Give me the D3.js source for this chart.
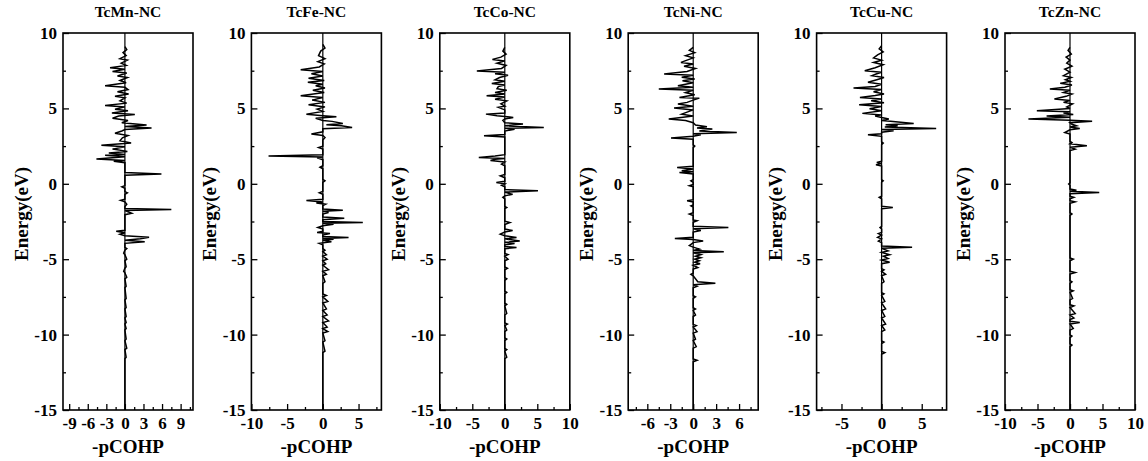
<!DOCTYPE html>
<html>
<head>
<meta charset="utf-8">
<script src="https://cdnjs.cloudflare.com/ajax/libs/d3/7.8.5/d3.min.js"></script>
<style>
body { margin: 0; background: #fff; }
text { font-family: "Liberation Serif", "Times New Roman", serif; font-weight: bold; fill: #000; }
</style>
</head>
<body>
<div id="chart"></div>
<script>
// panel titles
var titles = ["TcMn-NC", "TcFe-NC", "TcCo-NC", "TcNi-NC", "TcCu-NC", "TcZn-NC"];

// x axis settings per panel
var xDomains = [[-10, 11], [-10, 8.2], [-10, 10], [-8.5, 8.5], [-8.1, 8.1], [-10, 10]];
var xMajor = [[-9, -6, -3, 0, 3, 6, 9], [-10, -5, 0, 5], [-10, -5, 0, 5, 10], [-6, -3, 0, 3, 6], [-5, 0, 5], [-10, -5, 0, 5, 10]];
var xMinor = [[-7.5, -4.5, -1.5, 1.5, 4.5, 7.5, 10.5], [-7.5, -2.5, 2.5, 7.5], [-7.5, -2.5, 2.5, 7.5], [-7.5, -4.5, -1.5, 1.5, 4.5, 7.5], [-7.5, -2.5, 2.5, 7.5], [-7.5, -2.5, 2.5, 7.5]];
var yMajor = [10, 5, 0, -5, -10, -15];
var yMinor = [7.5, 2.5, -2.5, -7.5, -12.5];

// -pCOHP curves: [energy, value]
var tcMnCohp = [[9.1,0],[8.9,0.3],[8.7,-0.3],[8.5,0.2],[8.3,-0.8],[8.2,0.4],[8.0,-0.6],[7.85,0.2],[7.7,-2.4],[7.6,0],[7.45,-2.0],[7.35,0.3],[7.15,-1.2],[7.05,0.4],[6.85,-0.8],[6.7,0.2],[6.5,-3.2],[6.4,0],[6.25,0.5],[6.1,-1.2],[5.95,0.6],[5.8,-1.6],[5.7,0],[5.5,-0.8],[5.35,0.3],[5.2,-3.2],[5.1,0],[4.95,-1.6],[4.85,0.5],[4.7,-2.1],[4.6,1.6],[4.5,-1.0],[4.35,-2.0],[4.2,0.5],[4.05,-0.5],[3.9,3.5],[3.8,0],[3.7,4.3],[3.6,0],[3.5,-0.5],[3.35,-1.6],[3.2,0.5],[3.05,-0.4],[2.85,-0.8],[2.7,1.0],[2.55,-3.8],[2.45,0],[2.3,-2.0],[2.15,0.4],[2.05,-2.6],[1.95,0],[1.9,-3.2],[1.8,0],[1.65,-4.6],[1.55,0],[1.5,-1.8],[1.4,0],[0.75,0],[0.65,5.9],[0.57,0],[0.2,0],[-0.12,0],[-0.2,-0.5],[-0.3,0],[-0.52,0],[-0.6,0.4],[-0.7,0],[-1.02,0],[-1.1,-0.7],[-1.2,0],[-1.35,0.3],[-1.5,0],[-1.64,0],[-1.7,7.5],[-1.77,0],[-1.95,1.1],[-2.05,0],[-3.08,0],[-3.15,-1.4],[-3.25,0],[-3.35,-0.8],[-3.45,0],[-3.55,3.9],[-3.65,2.5],[-3.75,0],[-3.85,3.2],[-3.95,0],[-4.22,0],[-4.3,0.3],[-4.4,0],[-4.6,-0.2],[-4.7,0],[-5.0,0.3],[-5.1,0],[-5.5,0.2],[-5.6,0],[-5.8,-0.2],[-5.9,0],[-6.2,0.3],[-6.3,0],[-6.8,0.2],[-6.9,0],[-7.6,0.2],[-7.7,0],[-8.2,0.2],[-8.3,0],[-8.8,0.2],[-8.9,0],[-9.2,0.2],[-9.3,0],[-9.6,0.2],[-9.7,0],[-10.3,0.2],[-10.4,0],[-10.9,0.3],[-11.0,0],[-11.5,0.2],[-11.6,0],[-15,0]];
var tcFeCohp = [[9.25,0],[9.0,0.3],[8.8,-0.3],[8.5,-0.6],[8.3,0.3],[8.1,-0.7],[7.95,0.2],[7.75,-0.5],[7.57,-3.1],[7.45,0],[7.3,-1.6],[7.15,0],[7.0,-2.0],[6.85,0.2],[6.73,-2.1],[6.6,0],[6.5,-1.0],[6.35,0.3],[6.2,-1.4],[6.05,0.2],[5.84,-3.1],[5.72,0],[5.55,-1.5],[5.4,0.3],[5.24,-2.0],[5.1,0.3],[4.95,-0.8],[4.8,0],[4.62,-2.3],[4.52,0],[4.45,1.9],[4.35,-1.0],[4.2,0],[4.14,1.3],[4.0,2.8],[3.92,0.5],[3.85,2.6],[3.74,4.1],[3.65,0],[3.45,0],[3.3,-1.6],[3.2,0],[3.07,0.3],[2.9,0],[2.5,0],[2.4,-0.6],[2.3,0],[1.92,0],[1.85,-7.6],[1.78,0],[1.72,-0.8],[1.6,0],[1.2,0],[1.1,-0.4],[1.0,0],[0.3,0],[0.2,0.3],[0.1,0],[-0.5,0],[-0.6,-0.5],[-0.7,0],[-1.02,0],[-1.1,-2.3],[-1.2,0],[-1.28,-0.9],[-1.35,0.4],[-1.45,0],[-1.67,0],[-1.75,2.8],[-1.82,0],[-1.9,0.8],[-2.0,0],[-2.2,0],[-2.28,3.0],[-2.38,0],[-2.5,0],[-2.57,5.6],[-2.62,0],[-2.68,1.5],[-2.78,0],[-2.9,-0.7],[-3.0,0],[-3.15,0],[-3.23,-0.8],[-3.3,1.0],[-3.4,0],[-3.5,0],[-3.56,3.6],[-3.62,0],[-3.67,1.5],[-3.75,0],[-3.85,1.2],[-3.95,-0.5],[-4.05,0],[-4.3,0],[-4.4,0.3],[-4.5,0],[-4.7,0.5],[-4.8,0],[-5.0,0.6],[-5.1,0],[-5.3,0.4],[-5.4,0],[-5.7,0.8],[-5.8,0],[-6.0,0.5],[-6.1,0],[-6.5,0.3],[-6.6,0],[-7.3,0],[-7.4,0.5],[-7.5,0],[-7.8,0.7],[-7.9,0],[-8.3,0.5],[-8.4,0],[-8.7,0.6],[-8.8,0],[-9.1,0.8],[-9.2,0],[-9.5,0.6],[-9.6,0],[-9.8,0.7],[-9.9,0],[-10.4,0.3],[-10.5,0],[-11.1,0.3],[-11.2,0],[-15,0]];
var tcCoCohp = [[9.05,0],[8.8,-0.3],[8.6,0.2],[8.4,-0.6],[8.25,-1.9],[8.15,0],[8.0,-1.2],[7.85,0.2],[7.65,-0.5],[7.48,-4.3],[7.4,0],[7.3,-1.5],[7.2,0.5],[7.05,-0.8],[6.9,-1.5],[6.8,0],[6.65,-2.0],[6.55,0],[6.45,-1.0],[6.3,-1.2],[6.2,0.3],[6.05,-1.5],[5.95,0],[5.84,-2.8],[5.75,0],[5.6,-1.5],[5.5,0.3],[5.3,-0.6],[5.15,0],[5.07,-1.0],[4.9,0],[4.7,0],[4.62,-2.9],[4.52,-1.2],[4.4,1.3],[4.3,0],[4.2,-0.3],[4.05,0],[3.96,2.8],[3.85,0],[3.74,6.0],[3.68,0],[3.62,1.5],[3.5,0],[3.27,0],[3.19,-3.2],[3.1,0],[1.93,0],[1.85,-1.5],[1.75,-4.0],[1.68,0],[1.63,-1.5],[1.55,-2.2],[1.45,0],[1.3,-0.5],[1.2,0],[0.62,0],[0.53,-0.7],[0.4,0],[0.17,0],[0.09,-1.3],[0,0],[-0.1,-0.5],[-0.2,0],[-0.38,0],[-0.46,5.1],[-0.55,0],[-0.7,1.2],[-0.8,0],[-0.9,-0.3],[-1.0,0],[-1.5,0],[-1.57,0.3],[-1.65,0],[-2.48,0],[-2.57,0.8],[-2.7,0],[-3.0,0],[-3.1,1.2],[-3.2,0],[-3.34,-0.7],[-3.45,0],[-3.56,1.8],[-3.65,0],[-3.8,2.3],[-3.88,0],[-3.96,1.5],[-4.05,0],[-4.15,0],[-4.23,1.8],[-4.3,0],[-4.62,0],[-4.7,0.5],[-4.8,0],[-5.0,0.5],[-5.1,0],[-5.52,0],[-5.6,0.4],[-5.7,0],[-6.22,0],[-6.3,0.3],[-6.4,0],[-7.12,0],[-7.2,0.3],[-7.3,0],[-7.92,0],[-8.0,0.3],[-8.1,0],[-8.6,0.3],[-8.7,0],[-9.22,0],[-9.3,0.4],[-9.4,0],[-9.7,0.3],[-9.8,0],[-10.22,0],[-10.3,0.3],[-10.4,0],[-10.92,0],[-11.0,0.3],[-11.1,0],[-11.5,0.3],[-11.6,0],[-15,0]];
var tcNiCohp = [[9.05,0],[8.85,-0.5],[8.7,0.2],[8.5,-1.0],[8.35,0],[8.2,-0.8],[8.05,-1.6],[7.95,0],[7.8,-1.2],[7.65,0.3],[7.45,-0.8],[7.28,-3.8],[7.2,0],[7.06,-1.5],[6.95,0.2],[6.84,-1.4],[6.7,0],[6.5,-2.0],[6.4,0],[6.28,-4.5],[6.2,0],[6.05,-1.0],[5.9,0.2],[5.73,-1.8],[5.68,0.8],[5.55,0],[5.4,-0.8],[5.29,-2.0],[5.15,0],[5.02,-2.5],[4.9,0],[4.75,-0.8],[4.62,-1.5],[4.5,0],[4.3,-3.2],[4.2,-1.0],[4.05,0],[3.9,0.3],[3.78,1.8],[3.7,0.5],[3.63,2.5],[3.5,0.8],[3.4,5.7],[3.32,0],[3.25,1.0],[3.15,0],[3.03,-2.9],[2.95,0],[2.58,0],[2.5,0.2],[2.4,0],[1.16,0],[1.08,-2.1],[0.98,0],[0.86,-1.5],[0.8,0],[0.75,-1.8],[0.65,0],[0.28,0],[0.2,-0.3],[0.1,0],[-0.05,0],[-0.13,-0.5],[-0.2,0],[-1.05,0],[-1.13,-0.8],[-1.2,0],[-1.4,0],[-1.46,-0.3],[-1.55,0],[-1.92,0],[-2.0,-0.5],[-2.1,0],[-2.4,0],[-2.45,0.5],[-2.55,0],[-2.82,0],[-2.9,4.6],[-2.98,0],[-3.1,1.0],[-3.2,0],[-3.55,0],[-3.63,-2.4],[-3.7,0],[-3.8,1.3],[-3.9,0],[-4.1,-0.5],[-4.2,0],[-4.33,0.8],[-4.42,0],[-4.5,4.0],[-4.58,0],[-4.7,1.0],[-4.8,0.3],[-4.9,1.0],[-5.0,0.2],[-5.1,0.8],[-5.2,0.2],[-5.3,0.9],[-5.4,0],[-5.55,0.6],[-5.65,0],[-5.92,0],[-6.0,-0.3],[-6.1,0],[-6.5,0.6],[-6.6,2.9],[-6.7,0],[-6.8,0.5],[-6.9,0],[-7.42,0],[-7.5,0.3],[-7.6,0],[-8.22,0],[-8.3,0.3],[-8.4,0],[-8.7,0.3],[-8.8,0],[-9.32,0],[-9.4,0.4],[-9.5,0],[-9.8,0.5],[-9.9,0],[-10.3,0.3],[-10.4,0],[-10.8,0.4],[-10.9,0],[-11.62,0],[-11.7,0.5],[-11.8,0],[-15,0]];
var tcCuCohp = [[9.15,0],[8.95,-0.3],[8.75,0.2],[8.55,-0.5],[8.35,-1.0],[8.2,0],[8.05,-1.0],[7.9,0.2],[7.7,-0.8],[7.5,-2.1],[7.4,0],[7.3,-0.6],[7.17,-1.2],[7.05,0.3],[6.9,-0.6],[6.73,-1.7],[6.6,0],[6.45,-0.8],[6.35,-3.5],[6.25,0],[6.1,-1.0],[5.95,0.3],[5.85,-0.8],[5.73,-2.7],[5.62,0],[5.5,-1.3],[5.38,0.3],[5.24,-2.8],[5.12,0],[4.98,-1.5],[4.85,0],[4.67,-2.4],[4.57,0],[4.5,-0.8],[4.4,0],[4.3,0.9],[4.2,0],[4.14,1.1],[4.0,4.0],[3.92,0.5],[3.85,2.0],[3.76,0.4],[3.67,6.8],[3.6,0],[3.52,1.5],[3.42,0],[3.32,0],[3.25,-1.7],[3.15,0],[2.78,0],[2.7,0.2],[2.6,0],[1.5,0],[1.42,-0.6],[1.35,0],[1.26,-0.7],[1.18,0],[0.28,0],[0.2,0.2],[0.1,0],[-0.82,0],[-0.9,-0.3],[-1.0,0],[-1.49,0],[-1.57,1.4],[-1.65,0],[-2.82,0],[-2.9,-0.2],[-3.0,0],[-3.22,0],[-3.3,-0.4],[-3.4,0],[-3.55,-0.5],[-3.65,0],[-3.8,-0.4],[-3.9,0],[-4.12,0],[-4.2,3.8],[-4.28,0],[-4.45,0.8],[-4.55,0],[-4.7,1.0],[-4.8,0.2],[-4.95,0.8],[-5.05,0],[-5.2,1.0],[-5.3,0],[-5.62,0],[-5.7,0.3],[-5.8,0],[-6.0,0.5],[-6.1,0],[-6.5,0.3],[-6.6,0],[-7.22,0],[-7.3,0.3],[-7.4,0],[-7.8,0.4],[-7.9,0],[-8.3,0.5],[-8.4,0],[-8.8,0.4],[-8.9,0],[-9.3,0.5],[-9.4,0],[-9.7,0.4],[-9.8,0],[-10.42,0],[-10.5,0.3],[-10.6,0],[-11.12,0],[-11.2,0.4],[-11.3,0],[-15,0]];
var tcZnCohp = [[9.05,0],[8.85,-0.3],[8.6,0.2],[8.4,-0.6],[8.2,0],[8.0,-0.5],[7.8,0.3],[7.6,-0.8],[7.4,0],[7.17,-1.0],[7.05,0.2],[6.9,-0.7],[6.8,0],[6.66,-1.5],[6.55,0.3],[6.4,-0.8],[6.28,-3.1],[6.2,0],[6.05,-1.0],[5.95,0.3],[5.8,-0.6],[5.62,-2.4],[5.52,0],[5.4,-1.0],[5.3,0.4],[5.1,-0.5],[5.0,0],[4.85,-5.1],[4.78,0],[4.7,-1.0],[4.6,0.5],[4.5,-3.6],[4.42,0],[4.3,-6.4],[4.22,0],[4.14,3.4],[4.05,0],[3.95,0.3],[3.85,1.0],[3.76,0],[3.67,1.5],[3.58,0],[3.4,-0.8],[3.3,0],[2.82,0],[2.74,0.3],[2.65,0],[2.52,2.6],[2.42,0],[2.3,0.8],[2.2,0],[0.06,0],[-0.02,-0.2],[-0.1,0],[-0.35,0],[-0.42,1.0],[-0.5,0],[-0.58,4.5],[-0.66,0],[-0.82,0],[-0.9,0.6],[-1.0,0],[-1.12,0],[-1.2,0.8],[-1.3,0],[-1.92,0],[-2.0,0.3],[-2.1,0],[-4.92,0],[-5.0,0.5],[-5.1,0],[-5.8,0],[-5.88,0.8],[-5.98,0],[-6.42,0],[-6.5,0.3],[-6.6,0],[-7.02,0],[-7.1,0.5],[-7.2,0],[-7.6,0.4],[-7.7,0],[-8.02,0],[-8.1,0.6],[-8.2,0],[-8.6,0.8],[-8.7,0],[-8.9,0.6],[-9.0,0],[-9.12,0],[-9.2,1.5],[-9.3,0],[-9.6,0.5],[-9.7,0],[-10.02,0],[-10.1,0.3],[-10.2,0],[-10.62,0],[-10.7,0.3],[-10.8,0],[-15,0]];

var curves = [tcMnCohp, tcFeCohp, tcCoCohp, tcNiCohp, tcCuCohp, tcZnCohp];

var width = 1148, height = 461;
var plotTop = 33, plotBottom = 410;
var panelW = 130, firstLeft = 63, step = 188.4;

var svg = d3.select("#chart").append("svg").attr("width", width).attr("height", height);

var y = d3.scaleLinear().domain([-15, 10]).range([plotBottom, plotTop]);

titles.forEach(function (t, i) {
    var left = firstLeft + i * step;
    var x = d3.scaleLinear().domain(xDomains[i]).range([left, left + panelW]);
    var g = svg.append("g");

    // zero line
    g.append("line").attr("x1", x(0)).attr("x2", x(0)).attr("y1", plotTop).attr("y2", plotBottom)
        .attr("stroke", "#000").attr("stroke-width", 1.2);

    // curve
    var line = d3.line().x(function (d) { return x(d[1]); }).y(function (d) { return y(d[0]); });
    g.append("path").datum(curves[i]).attr("d", line).attr("fill", "none")
        .attr("stroke", "#000").attr("stroke-width", 1.5).attr("stroke-linejoin", "miter");

    // y axis
    var ya = g.append("g").attr("transform", "translate(" + left + ",0)")
        .call(d3.axisLeft(y).tickValues(yMajor).tickSize(-6).tickPadding(6).tickFormat(d3.format("d")));
    ya.selectAll("text").style("font-size", "17px");
    g.append("g").attr("transform", "translate(" + left + ",0)")
        .call(d3.axisLeft(y).tickValues(yMinor).tickSize(-3).tickFormat(""))
        .call(function (s) { s.select(".domain").remove(); });

    // x axis
    var xa = g.append("g").attr("transform", "translate(0," + plotBottom + ")")
        .call(d3.axisBottom(x).tickValues(xMajor[i]).tickSize(-6).tickPadding(7).tickFormat(d3.format("d")));
    xa.selectAll("text").style("font-size", "17px");
    g.append("g").attr("transform", "translate(0," + plotBottom + ")")
        .call(d3.axisBottom(x).tickValues(xMinor[i].filter(function (v) { return v > xDomains[i][0] && v < xDomains[i][1]; })).tickSize(-3).tickFormat(""))
        .call(function (s) { s.select(".domain").remove(); });

    g.selectAll(".tick line").attr("stroke", "#000").attr("stroke-width", 1.3);
    g.selectAll(".tick text").attr("fill", "#000").text(function () { return d3.select(this).text().replace("\u2212", "-"); });

    // frame
    g.append("rect").attr("x", left).attr("y", plotTop).attr("width", panelW).attr("height", plotBottom - plotTop)
        .attr("fill", "none").attr("stroke", "#000").attr("stroke-width", 1.6);
    g.selectAll(".domain").remove();

    // labels
    g.append("text").attr("x", left + panelW / 2).attr("y", 17).attr("text-anchor", "middle")
        .style("font-size", "15.5px").text(t);
    g.append("text").attr("x", left + panelW / 2).attr("y", 453).attr("text-anchor", "middle")
        .style("font-size", "19px").text("-pCOHP");
    g.append("text").attr("transform", "translate(" + (left - 35) + ",214)rotate(-90)")
        .attr("text-anchor", "middle").style("font-size", "19px").text("Energy(eV)");
});
</script>
</body>
</html>
